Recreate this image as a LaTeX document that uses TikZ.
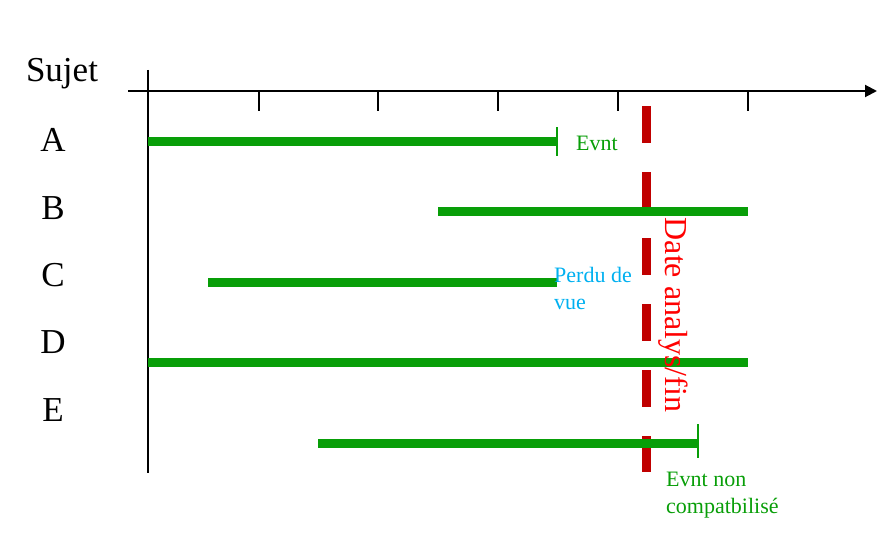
\documentclass[tikz,border=0pt]{standalone}
\usepackage{fontspec}
\setmainfont{Liberation Serif}
\usetikzlibrary{arrows.meta}
\definecolor{bargreen}{HTML}{089E08}
\definecolor{datered}{HTML}{C00000}
\definecolor{labred}{HTML}{FF0000}
\definecolor{labcyan}{HTML}{00B0F0}
\begin{document}
\begin{tikzpicture}[x=1pt,y=-1pt,
  axis/.style={line width=2pt,black},
  tickmark/.style={line width=2pt,black},
  bar/.style={line width=9pt,bargreen},
  barend/.style={line width=1.6pt,bargreen},
  subj/.style={inner sep=0pt,font=\fontsize{35}{40}\selectfont},
  smalllab/.style={inner sep=0pt,anchor=west,align=left,font=\fontsize{22}{27}\selectfont},
  dateline/.style={line width=9pt,datered,dash pattern=on 37pt off 29pt}]
\useasboundingbox (0,0) rectangle (891,535);
% axes
\coordinate (vtop) at (148,70);
\coordinate (vbot) at (148,473);
\coordinate (hl) at (128,91);
\coordinate (hr) at (877,91);
\draw[axis] (vtop) -- (vbot);
\draw[axis,-{Triangle[length=12pt,width=12pt]}] (hl) -- (hr);
% ticks
\foreach \x/\n in {259/t1,378/t2,498/t3,618/t4,748/t5}{
  \coordinate (\n a) at (\x,91);
  \coordinate (\n b) at (\x,111);
  \draw[tickmark] (\n a) -- (\n b);
}
% labels
\node[subj] (sujet) at (62,74) {Sujet};
\node[subj] (lA) at (53,140) {A};
\node[subj] (lB) at (53,208) {B};
\node[subj] (lC) at (53,275) {C};
\node[subj] (lD) at (53,342) {D};
\node[subj] (lE) at (53,410) {E};
% red date line
\coordinate (rt) at (646,106);
\coordinate (rb) at (646,472);
\draw[dateline] (rt) -- (rb);
% bars
\coordinate (a1) at (148,141); \coordinate (a2) at (557,141);
\coordinate (b1) at (438,211); \coordinate (b2) at (748,211);
\coordinate (c1) at (208,282); \coordinate (c2) at (557,282);
\coordinate (d1) at (148,362); \coordinate (d2) at (748,362);
\coordinate (e1) at (318,443); \coordinate (e2) at (698,443);
\draw[bar] (a1) -- (a2);
\draw[bar] (b1) -- (b2);
\draw[bar] (c1) -- (c2);
\draw[bar] (d1) -- (d2);
\draw[bar] (e1) -- (e2);
% bar end marks
\coordinate (ae1) at (557,127); \coordinate (ae2) at (557,156);
\coordinate (ee1) at (698,424); \coordinate (ee2) at (698,458);
\draw[barend] (ae1) -- (ae2);
\draw[barend] (ee1) -- (ee2);
% text labels
\node[smalllab,text=bargreen] (evnt) at (576,143) {Evnt};
\node[smalllab,text=labcyan] (perdu) at (554,288) {Perdu de\\vue};
\node[smalllab,text=bargreen] (evntnon) at (666,495) {Evnt non\\compatbilisé};
\node[inner sep=0pt,text=labred,rotate=-90,font=\fontsize{32}{38}\selectfont] (date) at (673,315) {Date analys/fin};
\end{tikzpicture}
\end{document}
